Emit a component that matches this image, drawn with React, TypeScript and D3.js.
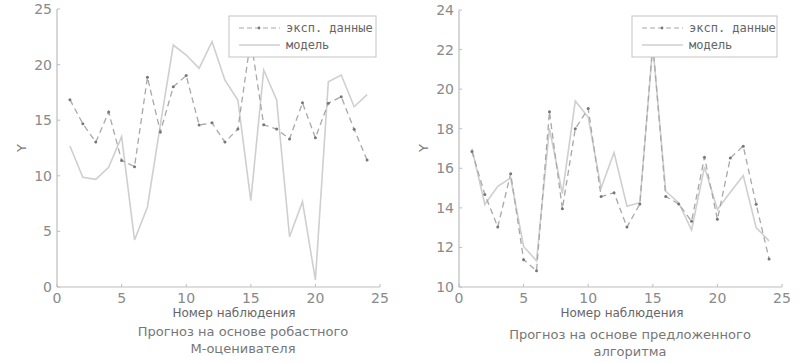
import React from "react";
import * as d3 from "d3";

// observation numbers
const obs = d3.range(1, 25);

// experimental data (same in both panels)
const expData = [16.85, 14.68, 13.03, 15.73, 11.38, 10.82, 18.86, 13.95, 18.0, 19.02, 14.57, 14.76,
  13.03, 14.2, 22.3, 14.58, 14.2, 13.32, 16.56, 13.42, 16.52, 17.12, 14.18, 11.42];

// model: robust M-estimator
const modelRobust = [12.68, 9.86, 9.68, 10.76, 13.52, 4.23, 7.2, 14.6, 21.76, 20.86, 19.66, 22.06,
  18.6, 16.82, 7.76, 19.51, 16.82, 4.52, 7.67, 0.63, 18.46, 19.06, 16.21, 17.3];

// model: proposed algorithm
const modelProposed = [17.0, 14.17, 15.09, 15.51, 12.05, 11.32, 18.02, 14.72, 19.4, 18.58, 15.0, 16.8,
  14.08, 14.26, 22.2, 14.84, 14.26, 12.88, 16.06, 13.92, 14.79, 15.63, 13.0, 12.33];

const xTicks = [0, 5, 10, 15, 20, 25];
const yTicksLeft = [0, 5, 10, 15, 20, 25];
const yTicksRight = [10, 12, 14, 16, 18, 20, 22, 24];

const legendLabels = ["эксп. данные", "модель"];
const xLabel = "Номер наблюдения";
const yLabel = "Y";
const titleLeft = ["Прогноз на основе робастного", "М-оценивателя"];
const titleRight = ["Прогноз на основе предложенного", "алгоритма"];

const AXIS = "#bdbdbd";
const TICK_TXT = "#8a8a8a";
const DASH = "#a8a8a8";
const DOT = "#777";
const SOLID = "#cfcfcf";
const FONT = "'DejaVu Sans', sans-serif";
const MONO = "'DejaVu Sans Mono', monospace";

interface PanelProps {
  left: number; right: number; top: number; bottom: number;
  yDomain: [number, number]; yTicks: number[];
  model: number[]; title: string[]; titleX: number; titleY: number;
  labelX: number; yLabelX: number;
  legend: { x: number; y: number; w: number; h: number };
}

function Panel(p: PanelProps) {
  const x = d3.scaleLinear().domain([0, 25]).range([p.left, p.right]);
  const y = d3.scaleLinear().domain(p.yDomain).range([p.bottom, p.top]);
  const line = d3.line<number>().x((_, i) => x(obs[i])).y((d) => y(d));
  const lg = p.legend;
  return (
    <g>
      <path d={line(p.model) ?? ""} fill="none" stroke={SOLID} strokeWidth={1.6} />
      <path d={line(expData) ?? ""} fill="none" stroke={DASH} strokeWidth={1.3} strokeDasharray="6,4" />
      {expData.map((d, i) => (
        <circle key={i} cx={x(obs[i])} cy={y(d)} r={1.5} fill={DOT} />
      ))}
      {/* axes */}
      <line x1={p.left} x2={p.right} y1={p.bottom} y2={p.bottom} stroke={AXIS} strokeWidth={1.2} />
      <line x1={p.left} x2={p.left} y1={p.top} y2={p.bottom} stroke={AXIS} strokeWidth={1.2} />
      {xTicks.map((t) => (
        <g key={"x" + t}>
          <line x1={x(t)} x2={x(t)} y1={p.bottom} y2={p.bottom - 3} stroke={AXIS} />
          <text x={x(t)} y={p.bottom + 16} textAnchor="middle" fontSize={14} fill={TICK_TXT} fontFamily={FONT}>{t}</text>
        </g>
      ))}
      {p.yTicks.map((t) => (
        <g key={"y" + t}>
          <line x1={p.left} x2={p.left + 3} y1={y(t)} y2={y(t)} stroke={AXIS} />
          <text x={p.left - 5} y={y(t) + 5} textAnchor="end" fontSize={14} fill={TICK_TXT} fontFamily={FONT}>{t}</text>
        </g>
      ))}
      <text x={p.labelX} y={317} textAnchor="middle" fontSize={12} fill="#666" fontFamily={FONT}>{xLabel}</text>
      <text transform={`translate(${p.yLabelX},148) rotate(-90)`} textAnchor="middle" fontSize={13} fill="#777" fontFamily={FONT}>{yLabel}</text>
      {p.title.map((t, i) => (
        <text key={i} x={p.titleX} y={p.titleY + i * 17} textAnchor="middle" fontSize={13} fill="#777" fontFamily={FONT}>{t}</text>
      ))}
      {/* legend */}
      <rect x={lg.x} y={lg.y} width={lg.w} height={lg.h} fill="#fff" stroke="#c4c4c4" strokeWidth={1} />
      <line x1={lg.x + 10} x2={lg.x + 51} y1={lg.y + 12} y2={lg.y + 12} stroke={DASH} strokeWidth={1.2} strokeDasharray="5,3" />
      <circle cx={lg.x + 30} cy={lg.y + 12} r={1.4} fill={DOT} />
      <text x={lg.x + 57} y={lg.y + 16} fontSize={12} fill="#666" fontFamily={MONO}>{legendLabels[0]}</text>
      <line x1={lg.x + 10} x2={lg.x + 51} y1={lg.y + 29} y2={lg.y + 29} stroke={SOLID} strokeWidth={1.4} />
      <text x={lg.x + 57} y={lg.y + 33} fontSize={12} fill="#666" fontFamily={MONO}>{legendLabels[1]}</text>
    </g>
  );
}

export default function App() {
  return (
    <div style={{ position: "absolute", left: 0, top: 0 }}>
      <svg width={800} height={362} style={{ display: "block", background: "#fff" }}>
        <Panel left={57} right={380} top={9} bottom={287} yDomain={[0, 25]} yTicks={yTicksLeft}
          model={modelRobust} title={titleLeft} titleX={243} titleY={336} labelX={234} yLabelX={26}
          legend={{ x: 229, y: 16, w: 147, h: 41 }} />
        <Panel left={459} right={782} top={10} bottom={287} yDomain={[10, 24]} yTicks={yTicksRight}
          model={modelProposed} title={titleRight} titleX={630} titleY={339} labelX={622} yLabelX={428}
          legend={{ x: 632, y: 16, w: 145, h: 41 }} />
      </svg>
    </div>
  );
}
